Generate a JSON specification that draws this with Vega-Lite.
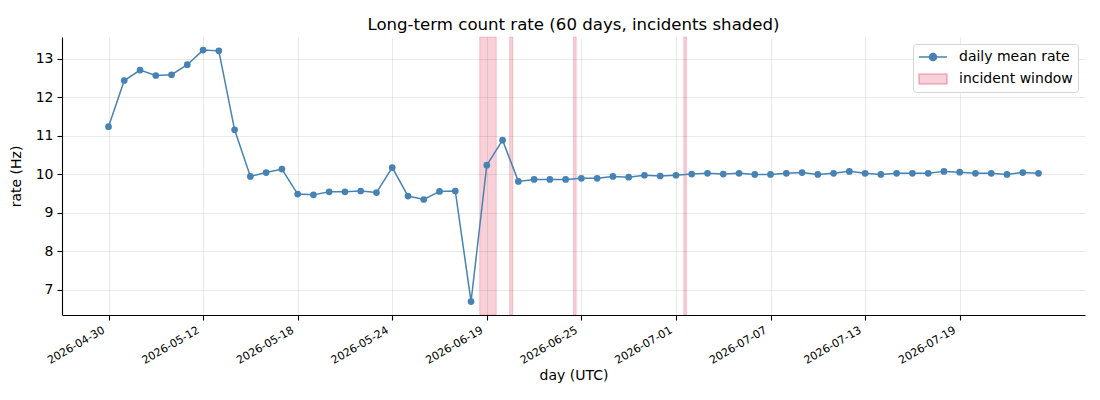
{
  "$schema": "https://vega.github.io/schema/vega-lite/v6.json",
  "width": 1023,
  "height": 278,
  "autosize": {"type": "none"},
  "padding": {"left": 62, "top": 37, "right": 15, "bottom": 85},
  "background": "#ffffff",
  "title": {
    "text": "Long-term count rate (60 days, incidents shaded)",
    "fontSize": 16.6,
    "fontWeight": "normal",
    "font": "DejaVu Sans",
    "color": "#000000",
    "anchor": "middle",
    "offset": 3
  },
  "datasets": {
    "daily": [
      {"day_index": 0, "day": "2026-04-30", "rate": 11.24},
      {"day_index": 1, "day": "2026-05-02", "rate": 12.44},
      {"day_index": 2, "day": "2026-05-04", "rate": 12.71},
      {"day_index": 3, "day": "2026-05-06", "rate": 12.57},
      {"day_index": 4, "day": "2026-05-08", "rate": 12.59},
      {"day_index": 5, "day": "2026-05-10", "rate": 12.85},
      {"day_index": 6, "day": "2026-05-12", "rate": 13.23},
      {"day_index": 7, "day": "2026-05-13", "rate": 13.21},
      {"day_index": 8, "day": "2026-05-14", "rate": 11.16},
      {"day_index": 9, "day": "2026-05-15", "rate": 9.95},
      {"day_index": 10, "day": "2026-05-16", "rate": 10.05},
      {"day_index": 11, "day": "2026-05-17", "rate": 10.14},
      {"day_index": 12, "day": "2026-05-18", "rate": 9.49},
      {"day_index": 13, "day": "2026-05-19", "rate": 9.47},
      {"day_index": 14, "day": "2026-05-20", "rate": 9.55},
      {"day_index": 15, "day": "2026-05-21", "rate": 9.55},
      {"day_index": 16, "day": "2026-05-22", "rate": 9.57},
      {"day_index": 17, "day": "2026-05-23", "rate": 9.53},
      {"day_index": 18, "day": "2026-05-24", "rate": 10.18},
      {"day_index": 19, "day": "2026-05-29", "rate": 9.44},
      {"day_index": 20, "day": "2026-06-03", "rate": 9.35},
      {"day_index": 21, "day": "2026-06-08", "rate": 9.56},
      {"day_index": 22, "day": "2026-06-13", "rate": 9.57},
      {"day_index": 23, "day": "2026-06-17", "rate": 6.70},
      {"day_index": 24, "day": "2026-06-19", "rate": 10.24},
      {"day_index": 25, "day": "2026-06-20", "rate": 10.89},
      {"day_index": 26, "day": "2026-06-21", "rate": 9.82},
      {"day_index": 27, "day": "2026-06-22", "rate": 9.87},
      {"day_index": 28, "day": "2026-06-23", "rate": 9.87},
      {"day_index": 29, "day": "2026-06-24", "rate": 9.87},
      {"day_index": 30, "day": "2026-06-25", "rate": 9.90},
      {"day_index": 31, "day": "2026-06-26", "rate": 9.90},
      {"day_index": 32, "day": "2026-06-27", "rate": 9.95},
      {"day_index": 33, "day": "2026-06-28", "rate": 9.93},
      {"day_index": 34, "day": "2026-06-29", "rate": 9.98},
      {"day_index": 35, "day": "2026-06-30", "rate": 9.96},
      {"day_index": 36, "day": "2026-07-01", "rate": 9.98},
      {"day_index": 37, "day": "2026-07-02", "rate": 10.01},
      {"day_index": 38, "day": "2026-07-03", "rate": 10.03},
      {"day_index": 39, "day": "2026-07-04", "rate": 10.01},
      {"day_index": 40, "day": "2026-07-05", "rate": 10.03},
      {"day_index": 41, "day": "2026-07-06", "rate": 10.00},
      {"day_index": 42, "day": "2026-07-07", "rate": 10.00},
      {"day_index": 43, "day": "2026-07-08", "rate": 10.03},
      {"day_index": 44, "day": "2026-07-09", "rate": 10.05},
      {"day_index": 45, "day": "2026-07-10", "rate": 10.00},
      {"day_index": 46, "day": "2026-07-11", "rate": 10.03},
      {"day_index": 47, "day": "2026-07-12", "rate": 10.08},
      {"day_index": 48, "day": "2026-07-13", "rate": 10.03},
      {"day_index": 49, "day": "2026-07-14", "rate": 10.00},
      {"day_index": 50, "day": "2026-07-15", "rate": 10.03},
      {"day_index": 51, "day": "2026-07-16", "rate": 10.03},
      {"day_index": 52, "day": "2026-07-17", "rate": 10.03},
      {"day_index": 53, "day": "2026-07-18", "rate": 10.08},
      {"day_index": 54, "day": "2026-07-19", "rate": 10.06},
      {"day_index": 55, "day": "2026-07-20", "rate": 10.03},
      {"day_index": 56, "day": "2026-07-21", "rate": 10.03},
      {"day_index": 57, "day": "2026-07-22", "rate": 10.00},
      {"day_index": 58, "day": "2026-07-23", "rate": 10.05},
      {"day_index": 59, "day": "2026-07-24", "rate": 10.03}
    ],
    "incidents": [
      {"start": 23.55, "end": 24.6},
      {"start": 25.45, "end": 25.65},
      {"start": 29.5, "end": 29.67},
      {"start": 36.5, "end": 36.66}
    ]
  },
  "layer": [
    {
      "data": {"name": "incidents"},
      "mark": {
        "type": "rect",
        "fillOpacity": 0.2,
        "stroke": "#dc143c",
        "strokeOpacity": 0.2,
        "strokeWidth": 1
      },
      "encoding": {
        "x": {"field": "start", "type": "quantitative"},
        "x2": {"field": "end"},
        "color": {
          "datum": "incident window",
          "scale": {
            "domain": ["daily mean rate", "incident window"],
            "range": ["#4682b4", "#dc143c"]
          },
          "legend": {
            "encode": {
              "symbols": {
                "update": {
                  "shape": {"signal": "datum.value === 'incident window' ? 'M-2,-0.7H2V0.7H-2Z' : 'M-2,0H2M-0.5,0A0.5,0.5 0 1,1 0.5,0A0.5,0.5 0 1,1 -0.5,0Z'"},
                  "fill": {"signal": "datum.value === 'incident window' ? '#dc143c' : '#4682b4'"},
                  "stroke": {"signal": "datum.value === 'incident window' ? '#dc143c' : '#4682b4'"},
                  "fillOpacity": {"signal": "datum.value === 'incident window' ? 0.2 : 1"},
                  "strokeOpacity": {"signal": "datum.value === 'incident window' ? 0.3 : 1"},
                  "opacity": {"value": 1}
                }
              }
            }
          }
        }
      }
    },
    {
      "data": {"name": "daily"},
      "mark": {
        "type": "line",
        "strokeWidth": 1.5,
        "point": {"filled": true, "size": 45, "opacity": 1}
      },
      "encoding": {
        "x": {
          "field": "day_index",
          "type": "quantitative",
          "title": "day (UTC)",
          "scale": {"domain": [-2.95, 61.95], "nice": false, "zero": false},
          "axis": {
            "values": [0, 6, 12, 18, 24, 30, 36, 42, 48, 54],
            "labelExpr": "['2026-04-30','2026-05-12','2026-05-18','2026-05-24','2026-06-19','2026-06-25','2026-07-01','2026-07-07','2026-07-13','2026-07-19'][datum.value / 6]",
            "labelAngle": -30,
            "labelAlign": "right",
            "labelBaseline": "top",
            "labelFontSize": 11,
            "labelPadding": 4,
            "labelOffset": -8,
            "labelOverlap": false,
            "titlePadding": 3
          }
        },
        "y": {
          "field": "rate",
          "type": "quantitative",
          "title": "rate (Hz)",
          "scale": {"domain": [6.35, 13.57], "nice": false, "zero": false},
          "axis": {
            "values": [7, 8, 9, 10, 11, 12, 13],
            "labelFontSize": 14,
            "labelPadding": 4,
            "titlePadding": 12
          }
        },
        "color": {
          "datum": "daily mean rate",
          "legend": {
            "encode": {
              "symbols": {
                "update": {
                  "shape": {"signal": "datum.value === 'incident window' ? 'M-2,-0.7H2V0.7H-2Z' : 'M-2,0H2M-0.5,0A0.5,0.5 0 1,1 0.5,0A0.5,0.5 0 1,1 -0.5,0Z'"},
                  "fill": {"signal": "datum.value === 'incident window' ? '#dc143c' : '#4682b4'"},
                  "stroke": {"signal": "datum.value === 'incident window' ? '#dc143c' : '#4682b4'"},
                  "fillOpacity": {"signal": "datum.value === 'incident window' ? 0.2 : 1"},
                  "strokeOpacity": {"signal": "datum.value === 'incident window' ? 0.3 : 1"},
                  "opacity": {"value": 1}
                }
              }
            }
          }
        }
      }
    }
  ],
  "config": {
    "font": "DejaVu Sans",
    "view": {"stroke": null},
    "axis": {
      "domainColor": "#000000",
      "domainWidth": 1.1,
      "tickColor": "#000000",
      "tickWidth": 1.1,
      "tickSize": 5,
      "labelColor": "#000000",
      "titleColor": "#000000",
      "titleFontWeight": "normal",
      "titleFontSize": 14,
      "gridColor": "#b0b0b0",
      "gridOpacity": 0.35,
      "gridWidth": 0.8
    },
    "legend": {
      "title": null,
      "orient": "top-right",
      "offset": 7,
      "labelFontSize": 14,
      "labelColor": "#000000",
      "labelOffset": 18,
      "symbolSize": 196,
      "symbolOffset": 7,
      "symbolStrokeWidth": 1.5,
      "rowPadding": 7,
      "padding": 5,
      "fillColor": "#ffffff",
      "strokeColor": "#d6d6d6",
      "cornerRadius": 3
    }
  }
}
